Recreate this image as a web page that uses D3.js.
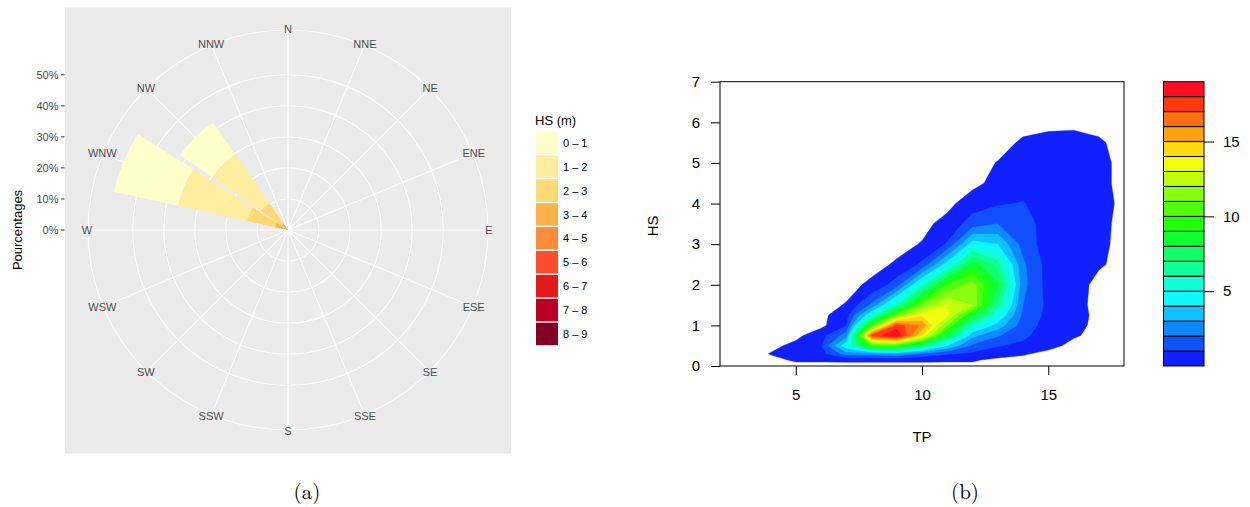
<!DOCTYPE html>
<html>
<head>
<meta charset="utf-8">
<script src="https://cdn.jsdelivr.net/npm/d3@7"></script>
<style>
body { margin: 0; background: #fff; }
svg { display: block; font-family: "Liberation Sans", Arial, sans-serif; }
</style>
</head>
<body>
<div id="chart"></div>
<script>
// (a) wind rose: share of observations (%) per direction and HS class
const directions = ["N", "NNE", "NE", "ENE", "E", "ESE", "SE", "SSE", "S", "SSW", "SW", "WSW", "W", "WNW", "NW", "NNW"];
const hsClasses = ["0 – 1", "1 – 2", "2 – 3", "3 – 4", "4 – 5", "5 – 6", "6 – 7", "7 – 8", "8 – 9"];
const hsColors = ["#FFFFCC", "#FFEDA0", "#FED976", "#FEB24C", "#FD8D3C", "#FC4E2A", "#E31A1C", "#BD0026", "#800026"];
const freqWNW = [21.1, 22.8, 9.2, 2.9, 1.4, 0, 0, 0, 0];
const freqNW = [12.6, 19.0, 8.1, 2.0, 0.6, 0, 0, 0, 0];
const radialTicks = [0, 10, 20, 30, 40, 50];

// (b) filled contour of the HS / TP density (null = no data)
const tpGrid = [3.5, 4, 5, 6, 7, 8, 9, 10, 11, 12, 13, 14, 15, 16, 17, 18];
const hsGrid = [0, 0.15, 0.3, 0.5, 0.75, 1, 1.25, 1.5, 2, 2.5, 3, 3.5, 4, 4.5, 5, 5.5, 6];
const _ = null;
const density = [
  [_, _, _, _, _, _, _, _, _, _, _, _, _, _, _, _],
  [_, _, 0.12, 0.12, 0.15, 0.15, 0.15, 0.15, 0.12, 0.12, _, _, _, _, _, _],
  [_, 0.05, 0.3, 0.6, 2.5, 2.5, 3, 1.8, 1.1, 0.8, 0.5, 0.1, _, _, _, _],
  [_, _, 0.25, 0.9, 4.8, 10, 10, 7, 4, 1.8, 1.05, 0.8, 0.3, _, _, _],
  [_, _, _, 0.6, 2.5, 17.3, 19, 14, 8, 3.3, 2.1, 1.2, 0.5, 0.1, _, _],
  [_, _, _, _, 0.95, 10, 17.5, 15.8, 11, 5.5, 3.6, 1.5, 0.6, 0.3, _, _],
  [_, _, _, _, 0.6, 5, 11, 13.8, 13.3, 8.5, 5, 1.8, 0.7, 0.4, _, _],
  [_, _, _, _, 0.05, 2.2, 6, 11, 13, 12, 6.5, 2.0, 0.75, 0.3, _, _],
  [_, _, _, _, _, 0.15, 1.5, 5.5, 10, 11.5, 8.2, 2.3, 0.6, 0.4, _, _],
  [_, _, _, _, _, _, 0.1, 1.2, 4.5, 8.5, 6.5, 2.2, 0.6, 0.4, 0.1, _],
  [_, _, _, _, _, _, _, 0.05, 1.1, 4.5, 4.0, 1.6, 0.5, 0.4, 0.2, _],
  [_, _, _, _, _, _, _, _, 0.3, 1.5, 2.0, 1.4, 0.6, 0.4, 0.25, _],
  [_, _, _, _, _, _, _, _, _, 0.5, 0.9, 1.05, 0.55, 0.4, 0.4, _],
  [_, _, _, _, _, _, _, _, _, _, 0.3, 0.6, 0.5, 0.4, 0.25, _],
  [_, _, _, _, _, _, _, _, _, _, 0.03, 0.4, 0.4, 0.35, 0.25, _],
  [_, _, _, _, _, _, _, _, _, _, _, 0.1, 0.3, 0.4, 0.1, _],
  [_, _, _, _, _, _, _, _, _, _, _, _, _, _, _, _]
];
const levels = [0, 1, 2, 3, 4, 5, 6, 7, 8, 9, 10, 11, 12, 13, 14, 15, 16, 17, 18, 19];
const levelColors = ["#1020FF", "#1050FF", "#1088FF", "#10C0FF", "#10F8FF", "#10FFD8", "#10FF98", "#10FF68",
  "#10FF30", "#20FF10", "#50FF10", "#88FF10", "#C0FF10", "#F0FF10", "#FFD810", "#FFA010", "#FF7010",
  "#FF3810", "#FF1020"];
const xTicks = [5, 10, 15];
const yTicks = [0, 1, 2, 3, 4, 5, 6, 7];
const barTicks = [5, 10, 15];

const width = 1250;
const height = 507;

const svg = d3.select("#chart")
  .append("svg")
  .attr("width", width)
  .attr("height", height);

svg.append("rect").attr("width", width).attr("height", height).attr("fill", "#fff");

// ---------------- (a) wind rose ----------------
const cx = 288, cy = 230, outerR = 200;
const r = d3.scaleLinear().domain([0, 64.4]).range([0, outerR]);
const angle = d3.scaleLinear().domain([0, directions.length]).range([0, 2 * Math.PI]);
const barWidth = angle(1) * 0.9;

svg.append("rect")
  .attr("x", 65).attr("y", 7.5)
  .attr("width", 446).attr("height", 446)
  .attr("fill", "#EBEBEB");

const rose = svg.append("g").attr("transform", `translate(${cx},${cy})`);

// grid
rose.selectAll("circle.grid")
  .data(radialTicks.slice(1).map(r).concat([outerR]))
  .join("circle")
  .attr("r", d => d)
  .attr("fill", "none")
  .attr("stroke", "#fff")
  .attr("stroke-width", 1.1);

rose.selectAll("line.spoke")
  .data(directions)
  .join("line")
  .attr("x1", 0).attr("y1", 0)
  .attr("x2", (d, i) => outerR * Math.sin(angle(i)))
  .attr("y2", (d, i) => -outerR * Math.cos(angle(i)))
  .attr("stroke", "#fff")
  .attr("stroke-width", 1.1);

// bars
const roseRows = directions.map(dir => {
  const row = { dir };
  const src = dir === "WNW" ? freqWNW : dir === "NW" ? freqNW : hsClasses.map(() => 0);
  hsClasses.forEach((c, k) => { row[c] = src[k]; });
  return row;
});
const stacked = d3.stack().keys(hsClasses.slice().reverse())(roseRows);
const arc = d3.arc();

stacked.forEach(layer => {
  const color = hsColors[hsClasses.indexOf(layer.key)];
  rose.append("g")
    .selectAll("path")
    .data(layer.filter(d => d[1] - d[0] > 0))
    .join("path")
    .attr("fill", color)
    .attr("d", d => {
      const a = angle(directions.indexOf(d.data.dir));
      return arc({
        innerRadius: r(d[0]),
        outerRadius: r(d[1]),
        startAngle: a - barWidth / 2,
        endAngle: a + barWidth / 2
      });
    });
});

// direction labels
rose.selectAll("text.dir")
  .data(directions)
  .join("text")
  .attr("x", (d, i) => 201 * Math.sin(angle(i)))
  .attr("y", (d, i) => -201 * Math.cos(angle(i)))
  .attr("dy", "0.35em")
  .attr("text-anchor", "middle")
  .attr("font-size", 11)
  .attr("fill", "#4D4D4D")
  .text(d => d);

// radial axis on the left
const yAxisA = svg.append("g");
yAxisA.selectAll("line")
  .data(radialTicks)
  .join("line")
  .attr("x1", 61).attr("x2", 64.5)
  .attr("y1", d => cy - r(d)).attr("y2", d => cy - r(d))
  .attr("stroke", "#333")
  .attr("stroke-width", 1);
yAxisA.selectAll("text")
  .data(radialTicks)
  .join("text")
  .attr("x", 58.5)
  .attr("y", d => cy - r(d))
  .attr("dy", "0.35em")
  .attr("text-anchor", "end")
  .attr("font-size", 11)
  .attr("fill", "#4D4D4D")
  .text(d => d + "%");

svg.append("text")
  .attr("transform", "translate(22,230) rotate(-90)")
  .attr("text-anchor", "middle")
  .attr("font-size", 13)
  .attr("fill", "#000")
  .text("Pourcentages");

// legend
const legend = svg.append("g").attr("transform", "translate(535,0)");
legend.append("text")
  .attr("x", 0).attr("y", 125)
  .attr("font-size", 13)
  .text("HS (m)");
const keys = legend.selectAll("g.key")
  .data(hsClasses)
  .join("g")
  .attr("transform", (d, i) => `translate(0,${131.5 + i * 23.9})`);
keys.append("rect")
  .attr("x", 1).attr("y", 0)
  .attr("width", 22).attr("height", 22.5)
  .attr("fill", (d, i) => hsColors[i]);
keys.append("text")
  .attr("x", 28).attr("y", 11.5)
  .attr("dy", "0.35em")
  .attr("font-size", 11)
  .text(d => d);

svg.append("text")
  .attr("x", 307).attr("y", 499)
  .attr("text-anchor", "middle")
  .attr("font-family", "'Latin Modern Roman', 'DejaVu Serif', 'Liberation Serif', serif")
  .attr("font-size", 21)
  .text("(a)");

// ---------------- (b) filled contour ----------------
const plot = { left: 720, right: 1124, top: 81.7, bottom: 366 };
const x = d3.scaleLinear().domain([2, 18]).range([plot.left, plot.right]);
const y = d3.scaleLinear().domain([0, 7]).range([plot.bottom, plot.top]);

const nx = tpGrid.length, ny = hsGrid.length;
const values = density.flat().map(v => v === null ? -0.25 : v);
const colToTp = d3.scaleLinear().domain(d3.range(nx)).range(tpGrid);
const rowToHs = d3.scaleLinear().domain(d3.range(ny)).range(hsGrid);
const gridProjection = d3.geoTransform({
  point(px, py) {
    this.stream.point(x(colToTp(px - 0.5)), y(rowToHs(py - 0.5)));
  }
});
const contourPath = d3.geoPath(gridProjection);

svg.append("clipPath").attr("id", "plot-clip")
  .append("rect")
  .attr("x", plot.left).attr("y", plot.top)
  .attr("width", plot.right - plot.left).attr("height", plot.bottom - plot.top);

const bands = d3.contours()
  .size([nx, ny])
  .thresholds(levels.slice(0, -1))(values);

svg.append("g")
  .attr("clip-path", "url(#plot-clip)")
  .selectAll("path")
  .data(bands)
  .join("path")
  .attr("d", contourPath)
  .attr("fill", (d, i) => levelColors[i])
  .attr("stroke", (d, i) => levelColors[i])
  .attr("stroke-width", 0.4);

svg.append("rect")
  .attr("x", plot.left).attr("y", plot.top)
  .attr("width", plot.right - plot.left).attr("height", plot.bottom - plot.top)
  .attr("fill", "none")
  .attr("stroke", "#000")
  .attr("stroke-width", 1);

const xAxis = svg.append("g")
  .attr("transform", `translate(0,${plot.bottom})`)
  .call(d3.axisBottom(x).tickValues(xTicks).tickFormat(d3.format("d")).tickSize(9).tickPadding(14).tickSizeOuter(0));
const yAxis = svg.append("g")
  .attr("transform", `translate(${plot.left},0)`)
  .call(d3.axisLeft(y).tickValues(yTicks).tickFormat(d3.format("d")).tickSize(9).tickPadding(11).tickSizeOuter(0));
[xAxis, yAxis].forEach(g => {
  g.select(".domain").remove();
  g.selectAll("line").attr("stroke", "#000");
  g.selectAll("text")
    .attr("font-size", 15)
    .attr("font-family", "'Liberation Sans', Arial, sans-serif")
    .attr("fill", "#000");
});

svg.append("text")
  .attr("x", x(10)).attr("y", 442)
  .attr("text-anchor", "middle")
  .attr("font-size", 15)
  .text("TP");
svg.append("text")
  .attr("transform", `translate(658,${y(3.45)}) rotate(-90)`)
  .attr("text-anchor", "middle")
  .attr("font-size", 15)
  .text("HS");

// colour key
const key = d3.scaleLinear().domain([0, 19]).range([plot.bottom, plot.top]);
const keyX = 1163.5, keyW = 40.5;
svg.append("g")
  .selectAll("rect")
  .data(levelColors)
  .join("rect")
  .attr("x", keyX)
  .attr("y", (d, i) => key(levels[i + 1]))
  .attr("width", keyW)
  .attr("height", (d, i) => key(levels[i]) - key(levels[i + 1]))
  .attr("fill", d => d)
  .attr("stroke", "#000")
  .attr("stroke-width", 1);

const keyAxis = svg.append("g")
  .attr("transform", `translate(${keyX + keyW},0)`)
  .call(d3.axisRight(key).tickValues(barTicks).tickSize(10).tickPadding(9).tickSizeOuter(0));
keyAxis.select(".domain").remove();
keyAxis.selectAll("line").attr("stroke", "#000");
keyAxis.selectAll("text")
  .attr("font-size", 15)
  .attr("font-family", "'Liberation Sans', Arial, sans-serif")
  .attr("fill", "#000");

svg.append("text")
  .attr("x", 965).attr("y", 499)
  .attr("text-anchor", "middle")
  .attr("font-family", "'Latin Modern Roman', 'DejaVu Serif', 'Liberation Serif', serif")
  .attr("font-size", 21)
  .text("(b)");
</script>
</body>
</html>
